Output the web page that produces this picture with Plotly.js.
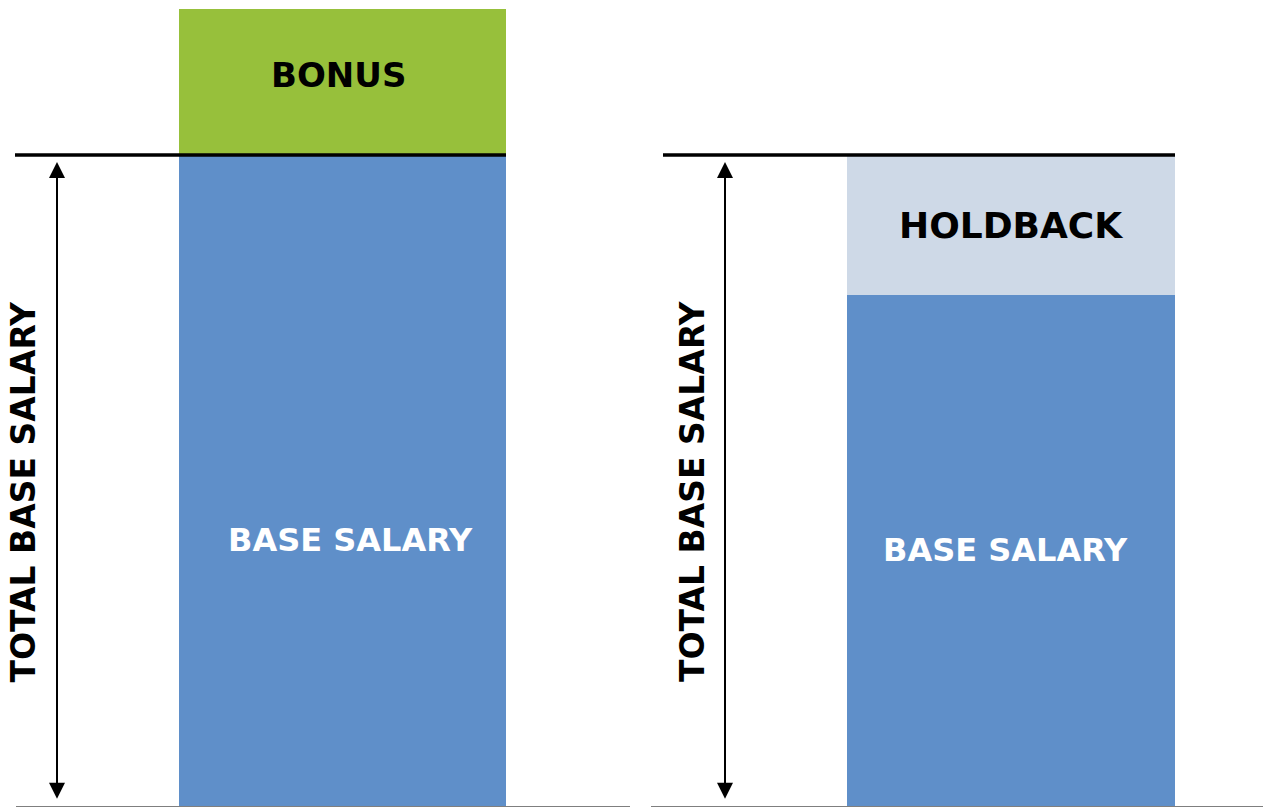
<!DOCTYPE html>
<html>
<head>
<meta charset="utf-8">
<script src="https://cdn.plot.ly/plotly-3.0.1.min.js"></script>
<style>html,body{margin:0;padding:0;background:#fff;}#chart{width:1263px;height:807px;}</style>
</head>
<body>
<div id="chart"></div>
<script>
// ---- data ----
const leftCategory = ["Bonus plan"];
const rightCategory = ["Holdback plan"];
const leftBase = [100];
const leftBonus = [22.4];
const rightBase = [78.5];
const rightHoldback = [21.5];
const totalBaseSalary = 100;
const segmentNames = ["BASE SALARY", "BONUS", "HOLDBACK"];
const axisLabel = "TOTAL BASE SALARY";

const W = 1263, H = 806;
const px = v => v / W;
const py = v => (H - v) / H;

const FONT = "DejaVu Sans";
const blue = "#5F8FC9", green = "#97C03B", light = "#CED9E7";

const traces = [
  {type: "bar", x: leftCategory, y: leftBase, name: segmentNames[0], xaxis: "x", yaxis: "y",
   marker: {color: blue, line: {width: 0}}, width: 0.8, hoverinfo: "skip"},
  {type: "bar", x: leftCategory, y: leftBonus, name: segmentNames[1], xaxis: "x", yaxis: "y",
   marker: {color: green, line: {width: 0}}, width: 0.8, hoverinfo: "skip"},
  {type: "bar", x: rightCategory, y: rightBase, name: segmentNames[0], xaxis: "x2", yaxis: "y2",
   marker: {color: blue, line: {width: 0}}, width: 0.8, hoverinfo: "skip"},
  {type: "bar", x: rightCategory, y: rightHoldback, name: segmentNames[2], xaxis: "x2", yaxis: "y2",
   marker: {color: light, line: {width: 0}}, width: 0.8, hoverinfo: "skip"}
];

const xCommon = {showline: true, linecolor: "#7f7f7f", linewidth: 2, showticklabels: false,
  ticks: "", showgrid: false, zeroline: false, fixedrange: true};
const yCommon = {range: [0, 123.8], visible: false, showgrid: false, zeroline: false, fixedrange: true};

function lbl(text, x, y, size, color, angle) {
  return {text: text, xref: "paper", yref: "paper", x: px(x), y: py(y), showarrow: false,
    xanchor: "center", yanchor: "middle", textangle: angle || 0,
    font: {family: FONT, size: size, color: color, weight: "bold"}};
}
function arrow(x) {
  return {text: "", xref: "paper", x: px(x), yref: "y", y: totalBaseSalary - 1.1,
    axref: "pixel", ax: 0, ayref: "y", ay: 0.9, showarrow: true,
    arrowside: "end+start", arrowhead: 2, startarrowhead: 2, arrowsize: 1.6, startarrowsize: 1.6,
    arrowwidth: 2, arrowcolor: "#000", standoff: 0, startstandoff: 0};
}

const layout = {
  width: 1263, height: 807,
  margin: {l: 0, r: 0, t: 0, b: 1},
  paper_bgcolor: "#fff", plot_bgcolor: "#fff",
  showlegend: false, barmode: "stack",
  xaxis: Object.assign({}, xCommon, {domain: [px(16), px(630)], range: [-0.7988, 0.7034]}),
  xaxis2: Object.assign({}, xCommon, {domain: [px(651), 1], range: [-0.878, 0.6146]}),
  yaxis: Object.assign({}, yCommon, {anchor: "x"}),
  yaxis2: Object.assign({}, yCommon, {anchor: "x2"}),
  shapes: [
    {type: "line", xref: "paper", yref: "y", x0: px(15), x1: px(506), y0: totalBaseSalary, y1: totalBaseSalary,
     line: {color: "#000", width: 3.5}},
    {type: "line", xref: "paper", yref: "y", x0: px(663), x1: px(1175), y0: totalBaseSalary, y1: totalBaseSalary,
     line: {color: "#000", width: 3.5}}
  ],
  annotations: [
    lbl(segmentNames[1], 338, 75, 34, "#000"),
    lbl(segmentNames[2], 1011, 226, 36, "#000"),
    lbl(segmentNames[0], 350.5, 540.5, 32, "#fff"),
    lbl(segmentNames[0], 1005.5, 550.5, 32, "#fff"),
    lbl(axisLabel, 23, 491.5, 33, "#000", -90),
    lbl(axisLabel, 692.5, 491.5, 33, "#000", -90),
    arrow(57), arrow(725)
  ]
};

Plotly.newPlot("chart", traces, layout, {displayModeBar: false, staticPlot: true});
</script>
</body>
</html>
